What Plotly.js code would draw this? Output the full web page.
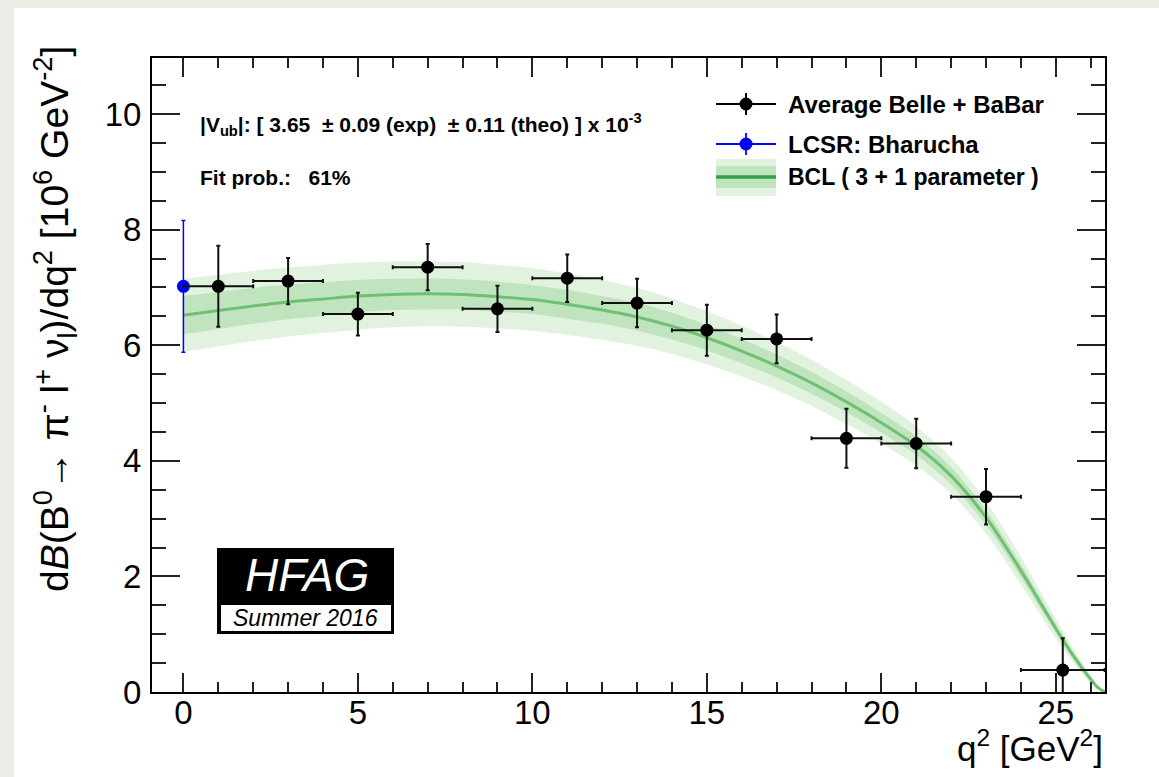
<!DOCTYPE html>
<html>
<head>
<meta charset="utf-8">
<script src="https://cdn.plot.ly/plotly-3.0.1.min.js"></script>
<style>
  html, body { margin: 0; padding: 0; background: #eeece7; width: 1159px; height: 777px; overflow: hidden; }
  #chart { position: absolute; left: 14px; top: 8px; width: 1145px; height: 769px; background: #ffffff; }
</style>
</head>
<body>
<div id="chart"></div>
<script>
// ---- Data ----
// Average Belle + BaBar (q^2 bin centres, values, errors)
const avgQ2        = [1, 3, 5, 7, 9, 11, 13, 15, 17, 19, 21, 23, 25.2];
const avgQ2ErrLo   = [1, 1, 1, 1, 1, 1, 1, 1, 1, 1, 1, 1, 1.2];
const avgQ2ErrHi   = [1, 1, 1, 1, 1, 1, 1, 1, 1, 1, 1, 1, 1.2];
const avgRate      = [7.02, 7.11, 6.54, 7.35, 6.63, 7.16, 6.73, 6.26, 6.11, 4.39, 4.30, 3.38, 0.38];
const avgRateErr   = [0.70, 0.40, 0.37, 0.40, 0.40, 0.41, 0.42, 0.44, 0.42, 0.51, 0.43, 0.48, 0.55];

// LCSR: Bharucha
const lcsrQ2      = [0];
const lcsrRate    = [7.02];
const lcsrRateErr = [1.14];

// BCL (3 + 1 parameter) fit: central curve and band half-widths
const bclQ2     = [0, 1, 2, 3, 4, 5, 6, 7, 8, 9, 10, 11, 12, 13, 14, 15, 16, 17, 18, 19, 20, 21, 22, 23, 24, 24.5, 25, 25.5, 26, 26.2, 26.41];
const bclCenter = [6.52, 6.60, 6.68, 6.75, 6.80, 6.85, 6.88, 6.89, 6.88, 6.84, 6.79, 6.71, 6.61, 6.49, 6.33, 6.13, 5.90, 5.64, 5.35, 5.02, 4.66, 4.26, 3.74, 3.02, 2.10, 1.60, 1.10, 0.63, 0.22, 0.08, 0.0];
const bclInner  = [0.33, 0.32, 0.31, 0.30, 0.29, 0.28, 0.27, 0.27, 0.26, 0.26, 0.25, 0.25, 0.24, 0.24, 0.23, 0.22, 0.21, 0.20, 0.19, 0.18, 0.17, 0.16, 0.15, 0.13, 0.11, 0.095, 0.08, 0.06, 0.03, 0.015, 0.0];
const bclOuter  = [0.63, 0.62, 0.61, 0.60, 0.59, 0.58, 0.57, 0.56, 0.56, 0.55, 0.54, 0.53, 0.52, 0.50, 0.48, 0.46, 0.44, 0.42, 0.40, 0.38, 0.36, 0.34, 0.31, 0.28, 0.24, 0.21, 0.17, 0.12, 0.07, 0.035, 0.0];

// Texts
const vubText   = "<b>|V<sub>ub</sub>|: [ 3.65  ± 0.09 (exp)  ± 0.11 (theo) ] x 10<sup>-3</sup></b>";
const fitText   = "<b>Fit prob.:   61%</b>";
const legendLabels = ["Average Belle + BaBar", "LCSR: Bharucha", "BCL ( 3 + 1 parameter )"];
const xTitle = "q<sup>2</sup> [GeV<sup>2</sup>]";
const yTitle = "d<i>B</i>(B<sup>0</sup>→ π<sup>-</sup> l<sup>+</sup> ν<sub>l</sub>)/dq<sup>2</sup> [10<sup>6</sup> GeV<sup>-2</sup>]";

// ---- Colours ----
const outerCol = "rgb(225,242,223)";
const innerCol = "rgb(192,228,189)";
const lineCol  = "rgb(110,192,114)";
const legLineCol = "rgb(52,160,72)";
const FONT = '"Liberation Sans", Arial, Helvetica, sans-serif';

const sub = (a, b) => a.map((v, i) => v - b[i]);
const add = (a, b) => a.map((v, i) => v + b[i]);

const traces = [
  { x: bclQ2, y: sub(bclCenter, bclOuter), mode: "lines", line: {width: 0, shape: "spline", smoothing: 0.8}, hoverinfo: "skip", showlegend: false },
  { x: bclQ2, y: add(bclCenter, bclOuter), mode: "lines", line: {width: 0, shape: "spline", smoothing: 0.8}, fill: "tonexty", fillcolor: outerCol, hoverinfo: "skip", showlegend: false },
  { x: bclQ2, y: sub(bclCenter, bclInner), mode: "lines", line: {width: 0, shape: "spline", smoothing: 0.8}, hoverinfo: "skip", showlegend: false },
  { x: bclQ2, y: add(bclCenter, bclInner), mode: "lines", line: {width: 0, shape: "spline", smoothing: 0.8}, fill: "tonexty", fillcolor: innerCol, hoverinfo: "skip", showlegend: false },
  { x: bclQ2, y: bclCenter, mode: "lines", line: {width: 3, color: lineCol, shape: "spline", smoothing: 0.8}, showlegend: false },
  { x: lcsrQ2, y: lcsrRate, mode: "markers", marker: {size: 13, color: "rgb(0,0,255)"},
    error_y: {type: "data", array: lcsrRateErr, color: "rgb(0,0,255)", thickness: 1.5, width: 2},
    showlegend: false },
  { x: avgQ2, y: avgRate, mode: "markers", marker: {size: 13, color: "#000"},
    error_x: {type: "data", symmetric: false, array: avgQ2ErrHi, arrayminus: avgQ2ErrLo, color: "#111", thickness: 2, width: 2},
    error_y: {type: "data", array: avgRateErr, color: "#111", thickness: 2, width: 2},
    showlegend: false }
];

// paper-coordinate helpers (page pixels -> paper), plot area on page: x 152..1105, y 58..692
const PX = X => (X - 152) / 953;
const PY = Y => (692 - Y) / 634;

const shapes = [];
const annotations = [];

// Legend row 1 (black) and row 2 (blue)
[[104, "#000", 2, legendLabels[0], 24], [144, "rgb(0,0,255)", 1.8, legendLabels[1], 24]].forEach(([Y, col, w, lab, fs]) => {
  shapes.push({type: "line", xref: "paper", yref: "paper", x0: PX(716), x1: PX(776), y0: PY(Y), y1: PY(Y), line: {color: col, width: w}});
  shapes.push({type: "line", xref: "paper", yref: "paper", x0: PX(746), x1: PX(746), y0: PY(Y - 11), y1: PY(Y + 11), line: {color: col, width: w}});
  shapes.push({type: "circle", xref: "paper", yref: "paper", xsizemode: "pixel", ysizemode: "pixel",
    xanchor: PX(746), yanchor: PY(Y), x0: -6.5, x1: 6.5, y0: -6.5, y1: 6.5, fillcolor: col, line: {width: 0}});
  annotations.push({xref: "paper", yref: "paper", x: PX(786), y: PY(Y), xanchor: "left", yanchor: "middle",
    text: "<b>" + lab + "</b>", showarrow: false, font: {family: FONT, size: fs, color: "#000"}});
});
// Legend row 3 (band)
shapes.push({type: "rect", xref: "paper", yref: "paper", x0: PX(716), x1: PX(776), y0: PY(196), y1: PY(159), fillcolor: outerCol, line: {width: 0}});
shapes.push({type: "rect", xref: "paper", yref: "paper", x0: PX(716), x1: PX(776), y0: PY(188), y1: PY(166), fillcolor: innerCol, line: {width: 0}});
shapes.push({type: "line", xref: "paper", yref: "paper", x0: PX(716), x1: PX(776), y0: PY(177), y1: PY(177), line: {color: legLineCol, width: 3.5}});
annotations.push({xref: "paper", yref: "paper", x: PX(786), y: PY(177), xanchor: "left", yanchor: "middle",
  text: "<b>" + legendLabels[2] + "</b>", showarrow: false, font: {family: FONT, size: 23, color: "#000"}});

// Top-left texts
annotations.push({xref: "paper", yref: "paper", x: PX(198), y: PY(124), xanchor: "left", yanchor: "middle",
  text: vubText, showarrow: false, font: {family: FONT, size: 21, color: "#000"}});
annotations.push({xref: "paper", yref: "paper", x: PX(198), y: PY(177), xanchor: "left", yanchor: "middle",
  text: fitText, showarrow: false, font: {family: FONT, size: 21, color: "#000"}});

// HFAG box
shapes.push({type: "rect", xref: "paper", yref: "paper", x0: PX(217), x1: PX(394), y0: PY(634), y1: PY(548), fillcolor: "#000", line: {width: 0}});
shapes.push({type: "rect", xref: "paper", yref: "paper", x0: PX(221), x1: PX(391), y0: PY(631), y1: PY(605), fillcolor: "#fff", line: {width: 0}});
annotations.push({xref: "paper", yref: "paper", x: PX(307), y: PY(575), xanchor: "center", yanchor: "middle",
  text: "<i>HFAG</i>", showarrow: false, font: {family: FONT, size: 46, color: "#fff"}});
annotations.push({xref: "paper", yref: "paper", x: PX(305), y: PY(618), xanchor: "center", yanchor: "middle",
  text: "<i>Summer 2016</i>", showarrow: false, font: {family: FONT, size: 23, color: "#000"}});

// Axis titles
annotations.push({xref: "paper", yref: "paper", x: 1.0, y: PY(746), xanchor: "right", yanchor: "middle",
  text: xTitle, showarrow: false, font: {family: FONT, size: 35, color: "#000"}});
annotations.push({xref: "paper", yref: "paper", x: PX(55), y: PY(44), xanchor: "center", yanchor: "top", textangle: -90,
  text: yTitle, showarrow: false, font: {family: FONT, size: 39, color: "#000"}});

const layout = {
  width: 1145, height: 769,
  margin: {l: 138, r: 54, t: 50, b: 85},
  paper_bgcolor: "#ffffff", plot_bgcolor: "#ffffff",
  showlegend: false,
  font: {family: FONT, color: "#000"},
  xaxis: {
    range: [-0.9, 26.41], showgrid: false, zeroline: false,
    showline: true, linecolor: "#000", linewidth: 2, mirror: "ticks",
    ticks: "inside", ticklen: 19, tickwidth: 2, tickcolor: "#222",
    tick0: 0, dtick: 5, tickfont: {size: 33, family: FONT, color: "#000"},
    ticklabelstandoff: -10,
    minor: {ticks: "inside", ticklen: 10, tickwidth: 2, tickcolor: "#222", dtick: 1, tick0: 0, showgrid: false}
  },
  yaxis: {
    range: [0, 10.97], showgrid: false, zeroline: false,
    showline: true, linecolor: "#000", linewidth: 2, mirror: "ticks",
    ticks: "inside", ticklen: 28, tickwidth: 2, tickcolor: "#222",
    tick0: 0, dtick: 2, tickfont: {size: 33, family: FONT, color: "#000"},
    ticklabelstandoff: 2,
    minor: {ticks: "inside", ticklen: 14, tickwidth: 2, tickcolor: "#222", dtick: 0.5, tick0: 0, showgrid: false}
  },
  shapes: shapes,
  annotations: annotations
};

Plotly.newPlot("chart", traces, layout, {displayModeBar: false, staticPlot: true});
</script>
</body>
</html>
